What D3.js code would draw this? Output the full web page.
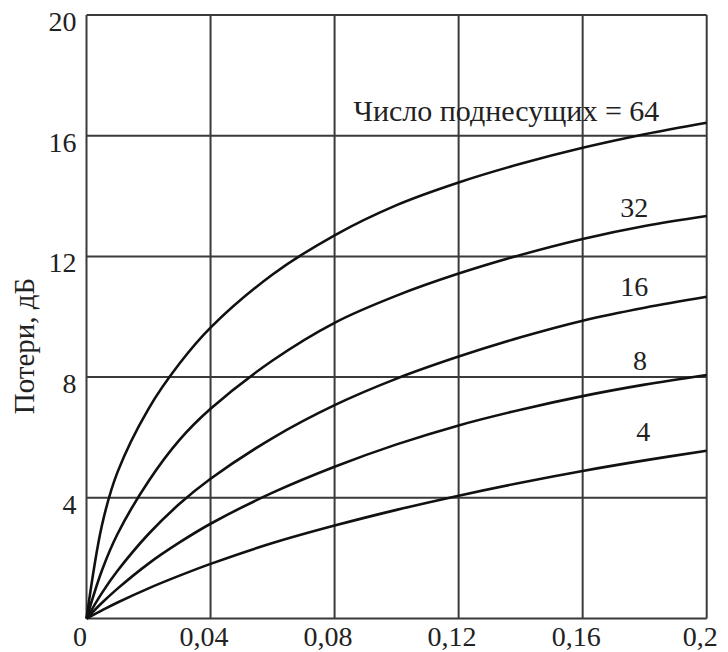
<!DOCTYPE html>
<html>
<head>
<meta charset="utf-8">
<script src="https://cdn.jsdelivr.net/npm/d3@7"></script>
<style>
	body { margin: 0; background: #fff; }
	text { font-family: "Liberation Serif", "Times New Roman", serif; fill: #222; }
</style>
</head>
<body>
<div id="chart"></div>
<script>
// data
// ---------------------------
const x_values = [0, 0.005, 0.01, 0.02, 0.03, 0.04, 0.06, 0.08, 0.10, 0.12, 0.14, 0.16, 0.18, 0.2];

const series_names = ["64", "32", "16", "8", "4"];
const series_labels = ["Число поднесущих = 64", "32", "16", "8", "4"];

const loss_64 = [0, 3.1, 4.85, 6.95, 8.45, 9.64, 11.4, 12.7, 13.7, 14.45, 15.07, 15.6, 16.05, 16.43];
const loss_32 = [0, 1.6, 2.8, 4.55, 5.92, 6.95, 8.55, 9.8, 10.7, 11.43, 12.05, 12.58, 13.01, 13.34];
const loss_16 = [0, 0.85, 1.58, 2.8, 3.8, 4.63, 5.98, 7.07, 7.95, 8.68, 9.32, 9.87, 10.3, 10.66];
const loss_8 = [0, 0.52, 0.99, 1.82, 2.52, 3.14, 4.17, 5.03, 5.77, 6.4, 6.92, 7.37, 7.75, 8.07];
const loss_4 = [0, 0.27, 0.53, 1.0, 1.42, 1.81, 2.5, 3.08, 3.6, 4.07, 4.5, 4.89, 5.24, 5.56];

const x_ticks = [0, 0.04, 0.08, 0.12, 0.16, 0.2];
const y_ticks = [4, 8, 12, 16, 20];
const y_title = "Потери, дБ";

// layout
// ---------------------------
const font_family = '"Liberation Serif", "Times New Roman", serif';
const font_size = 28;
const c_grid = '#3a3a3a';
const c_line = '#111';

// where each curve label sits, in data units
const label_pos = [
	{x: 0.1354, y: 16.84, size: 30},
	{x: 0.1766, y: 13.64, size: 28},
	{x: 0.1766, y: 11.01, size: 28},
	{x: 0.1785, y: 8.56, size: 28},
	{x: 0.1795, y: 6.21, size: 28}
];

let margin = {top: 15, left: 86.5, bottom: 33.5, right: 21.3};
let window_w = 728,
	window_h = 652,
	width = window_w - (margin.left + margin.right),
	height = window_h - (margin.top + margin.bottom);

const locale = d3.formatLocale({decimal: ",", thousands: " ", grouping: [3], currency: ["", ""]});
const format_x = locale.format("~g");

function draw() {

	let all_series = [loss_64, loss_32, loss_16, loss_8, loss_4].map((vals, i) => ({
		name: series_names[i],
		label: series_labels[i],
		values: vals.map((v, j) => ({x: x_values[j], y: v}))
	}));

	let svg = d3.select("#chart")
		.append("svg")
		.attr("width", window_w)
		.attr("height", window_h);

	svg.append("rect")
		.attr("width", window_w)
		.attr("height", window_h)
		.attr("fill", "#fff");

	let plot = svg.append("g")
		.attr("transform", "translate(" + margin.left + "," + margin.top + ")");

	// scale
	// ---------------------------
	let x = d3.scaleLinear()
		.domain([0, 0.2])
		.range([0, width]);

	let y = d3.scaleLinear()
		.domain([0, 20])
		.range([height, 0]);

	// grid
	// ---------------------------
	let grid = plot.append("g").attr("id", "grid");

	grid.selectAll(".vgrid")
		.data(x_ticks)
		.enter()
		.append("line")
		.attr("class", "vgrid")
		.attr("x1", d => x(d))
		.attr("x2", d => x(d))
		.attr("y1", 0)
		.attr("y2", height)
		.attr("stroke", c_grid)
		.attr("stroke-width", 2);

	grid.selectAll(".hgrid")
		.data([0].concat(y_ticks))
		.enter()
		.append("line")
		.attr("class", "hgrid")
		.attr("x1", 0)
		.attr("x2", width)
		.attr("y1", d => y(d))
		.attr("y2", d => y(d))
		.attr("stroke", c_grid)
		.attr("stroke-width", 2);

	// axis
	// ---------------------------
	let x_axis = plot.append("g")
		.attr("transform", "translate(0," + height + ")")
		.call(d3.axisBottom(x)
			.tickValues(x_ticks)
			.tickFormat(format_x)
			.tickSize(0)
			.tickPadding(8)
		);

	let y_axis = plot.append("g")
		.call(d3.axisLeft(y)
			.tickValues(y_ticks)
			.tickFormat(d3.format("d"))
			.tickSize(0)
			.tickPadding(10)
		);

	[x_axis, y_axis].forEach(a => {
		a.attr("font-family", null).attr("font-size", null);
		a.select(".domain").remove();
		a.selectAll("text")
			.style("font-family", font_family)
			.style("font-size", font_size + "px")
			.attr("fill", "#222");
	});
	x_axis.selectAll("text").attr("dx", -7);
	y_axis.selectAll("text").attr("dy", "0.55em");

	svg.append("text")
		.attr("transform", "translate(" + 34 + "," + 346 + ") rotate(-90)")
		.attr("text-anchor", "middle")
		.style("font-family", font_family)
		.style("font-size", "29px")
		.text(y_title);

	// curves
	// ---------------------------
	let line = d3.line()
		.x(d => x(d.x))
		.y(d => y(d.y))
		.curve(d3.curveCatmullRom.alpha(0.5));

	plot.append("g")
		.attr("id", "curves")
		.selectAll("path")
		.data(all_series)
		.enter()
		.append("path")
		.attr("d", d => line(d.values))
		.attr("fill", "none")
		.attr("stroke", c_line)
		.attr("stroke-width", 2.6);

	plot.append("g")
		.attr("id", "labels")
		.selectAll("text")
		.data(all_series)
		.enter()
		.append("text")
		.attr("x", (d, i) => x(label_pos[i].x))
		.attr("y", (d, i) => y(label_pos[i].y))
		.attr("dy", "0.35em")
		.attr("text-anchor", "middle")
		.style("font-family", font_family)
		.style("font-size", (d, i) => label_pos[i].size + "px")
		.text(d => d.label);
}

window.onload = function() {
	draw();
}
</script>
</body>
</html>
